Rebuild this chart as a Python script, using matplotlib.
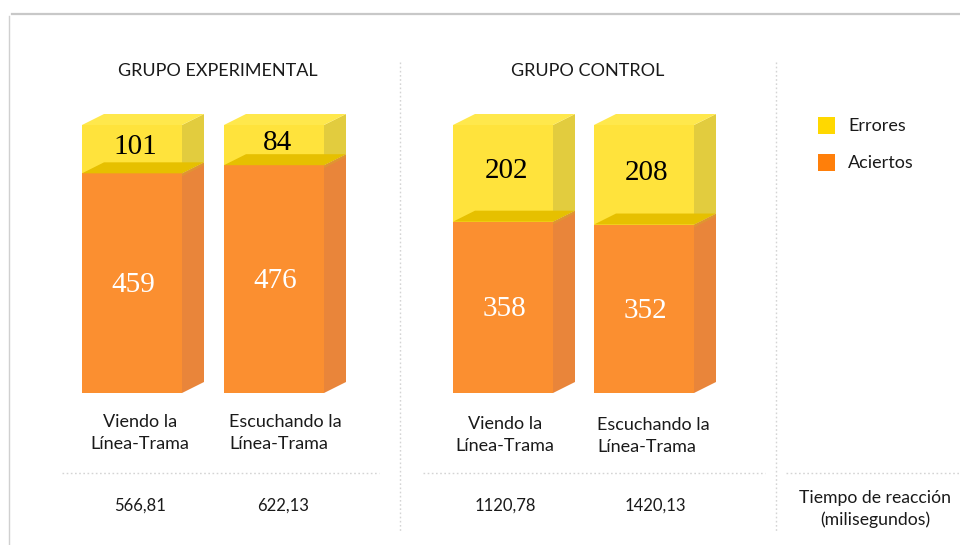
import matplotlib
matplotlib.use("Agg")
import matplotlib.pyplot as plt
from matplotlib.patches import Polygon, Rectangle
from matplotlib.lines import Line2D

# ---- data ----
groups = ["GRUPO EXPERIMENTAL", "GRUPO CONTROL"]
categories = ["Viendo la\nLínea-Trama", "Escuchando la\nLínea-Trama",
              "Viendo la\nLínea-Trama", "Escuchando la\nLínea-Trama"]
aciertos = [459, 476, 358, 352]
errores = [101, 84, 202, 208]
tiempos = ["566,81", "622,13", "1120,78", "1420,13"]
tiempo_label = "Tiempo de reacción\n(milisegundos)"
series_names = ["Errores", "Aciertos"]

# ---- style ----
W, H = 960, 545
fig = plt.figure(figsize=(W / 100, H / 100), dpi=100)
FONT = ["Lato", "DejaVu Sans"]
SERIF = ["Liberation Serif", "DejaVu Serif"]
TXT = "#1a1a1a"

# background overlay axes in pixel coords (for frame, dividers, text)
bg = fig.add_axes([0, 0, 1, 1])
bg.set_xlim(0, W)
bg.set_ylim(H, 0)
bg.axis("off")

# frame lines
bg.add_line(Line2D([12, 960], [14, 14], color="#c8c8c8", lw=1.6))
bg.add_line(Line2D([9, 9], [16, 545], color="#d0d0d0", lw=1.0))

# dotted dividers
dot = dict(color="#d4d4d4", lw=1.0, linestyle=(0, (1.2, 1.8)))
bg.add_line(Line2D([399.5, 399.5], [62, 532], **dot))
bg.add_line(Line2D([775.5, 775.5], [62, 532], **dot))
bg.add_line(Line2D([62, 379], [473, 473], **dot))
bg.add_line(Line2D([423, 765], [473, 473], **dot))
bg.add_line(Line2D([786, 960], [473, 473], **dot))

# ---- bars axes: y in data units ----
px_per_unit = 268 / 560.0
bottom_px = 393
ymax = 700
ax_h_px = ymax * px_per_unit
ax = fig.add_axes([0, (H - bottom_px) / H, 1, ax_h_px / H])
ax.set_xlim(0, W)
ax.set_ylim(0, ymax)
ax.axis("off")
ax.patch.set_alpha(0)

lefts = [82, 224, 453, 594]
bw = 100
dx = 22
dy = 11 / px_per_unit

c_or_front = "#FB8F30"
c_or_side = "#E9853A"
c_ye_front = "#FFE33C"
c_ye_side = "#E2CC3E"
c_ye_top = "#FFE84C"
c_band = "#E6C000"


def box(x, y0, y1, front, side, top):
    ax.add_patch(Polygon([(x + bw, y0), (x + bw + dx, y0 + dy),
                          (x + bw + dx, y1 + dy), (x + bw, y1)],
                         closed=True, fc=side, ec="none"))
    ax.add_patch(Rectangle((x, y0), bw, y1 - y0, fc=front, ec="none"))
    if top is not None:
        ax.add_patch(Polygon([(x, y1), (x + dx, y1 + dy),
                              (x + bw + dx, y1 + dy), (x + bw, y1)],
                             closed=True, fc=top, ec="none"))


for i, x in enumerate(lefts):
    a = aciertos[i]
    e = errores[i]
    box(x, 0, a, c_or_front, c_or_side, None)
    box(x, a, a + e, c_ye_front, c_ye_side, c_ye_top)
    # band: the top face of the orange segment seen through yellow
    ax.add_patch(Polygon([(x, a), (x + dx, a + dy), (x + bw + dx, a + dy), (x + bw, a)],
                         closed=True, fc=c_band, ec="none"))
    ax.add_patch(Polygon([(x + bw, a), (x + bw + dx, a + dy),
                          (x + bw + dx, a + dy - 6), (x + bw, a - 6)],
                         closed=True, fc="#D9A42A", ec="none", alpha=0.5))
    # value labels
    ax.text(x + bw / 2 + 3, a + e / 2 + 4, str(e), ha="center", va="center",
            fontsize=21, family=SERIF, color="black")
    ax.text(x + bw / 2 + 1, a / 2 - 4, str(a), ha="center", va="center",
            fontsize=21, family=SERIF, color="white")

# group titles
bg.text(218, 71, groups[0], ha="center", va="center", fontsize=13, family=FONT, color=TXT)
bg.text(588, 71, groups[1], ha="center", va="center", fontsize=13, family=FONT, color=TXT)

# category labels
cat_pos = [(140, 433, "center"), (229, 433, "left"), (505, 435, "center"), (597, 436, "left")]
for (cx, cy, ha), lab in zip(cat_pos, categories):
    bg.text(cx, cy, lab, ha=ha, va="center", fontsize=13, family=FONT,
            color=TXT, linespacing=1.48, multialignment=ha)

# reaction times
time_x = [140, 283, 505, 655]
for tx, t in zip(time_x, tiempos):
    bg.text(tx, 506, t, ha="center", va="center", fontsize=12, family=FONT, color=TXT)
bg.text(875, 509, tiempo_label, ha="center", va="center", fontsize=12.7, family=FONT,
        color=TXT, linespacing=1.46)

# legend
leg_cols = ["#FFD800", "#FF7F0A"]
for j, (name, col) in enumerate(zip(series_names, leg_cols)):
    yc = 126 + j * 37
    bg.add_patch(Rectangle((818, yc - 9), 17, 17, fc=col, ec="none"))
    bg.text(848, yc, name, ha="left", va="center", fontsize=13, family=FONT, color=TXT)

fig.savefig("out.png", dpi=100)
